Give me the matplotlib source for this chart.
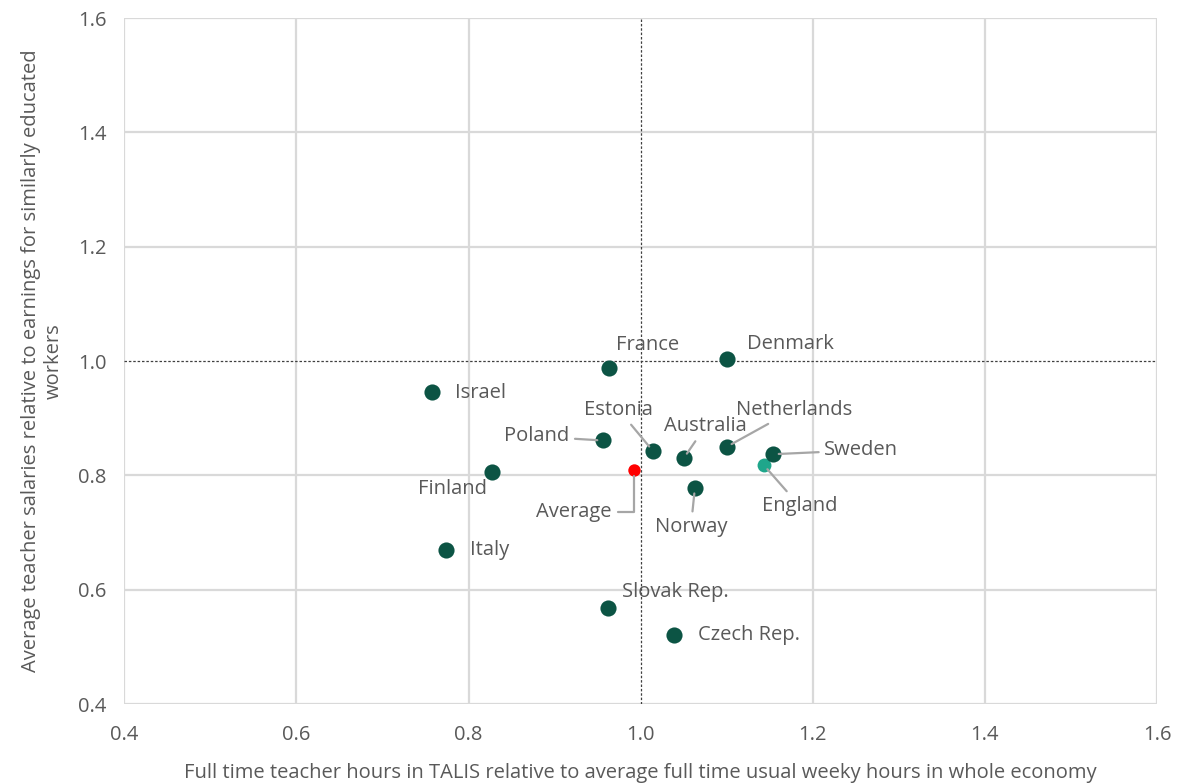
import matplotlib
matplotlib.use("Agg")
import matplotlib.pyplot as plt

countries = ["France", "Denmark", "Israel", "Poland", "Estonia", "Australia",
             "Netherlands", "Sweden", "England", "Finland", "Average", "Norway",
             "Italy", "Slovak Rep.", "Czech Rep."]
hours = [0.963, 1.100, 0.757, 0.956, 1.014, 1.050,
         1.100, 1.154, 1.143, 0.827, 0.992, 1.063,
         0.774, 0.962, 1.039]
salaries = [0.988, 1.004, 0.946, 0.861, 0.843, 0.830,
            0.850, 0.837, 0.818, 0.806, 0.809, 0.778,
            0.669, 0.568, 0.521]

x_ticks = [0.4, 0.6, 0.8, 1.0, 1.2, 1.4, 1.6]
y_ticks = [0.4, 0.6, 0.8, 1.0, 1.2, 1.4, 1.6]

# label offsets in pixels (dx, dy) and whether a leader line is drawn
label_style = {
    "France": ((39, 23), None),
    "Denmark": ((64, 15), None),
    "Israel": ((49, -1), None),
    "Poland": ((-66, 4), "line"),
    "Estonia": ((-34, 41), "line"),
    "Australia": ((22, 32), "line"),
    "Netherlands": ((67, 37), "line"),
    "Sweden": ((88, 4), "line"),
    "England": ((36, -41), "line"),
    "Finland": ((-39, -17), None),
    "Average": ((-60, -42), "elbow"),
    "Norway": ((-4, -39), "line"),
    "Italy": ((43, 0), None),
    "Slovak Rep.": ((67, 16), None),
    "Czech Rep.": ((75, 0), None),
}

DARK = "#0c5444"
TEAL = "#1fa68b"
RED = "#ff0000"
TXT = "#595959"
GRID = "#d9d9d9"

plt.rcParams['font.family'] = ['Open Sans', 'DejaVu Sans']

fig = plt.figure(figsize=(11.8, 7.84), dpi=100)
ax = fig.add_axes([0.1054, 0.102, 0.8751, 0.875])
ax.set_xlim(x_ticks[0], x_ticks[-1])
ax.set_ylim(y_ticks[0], y_ticks[-1])

for t in x_ticks:
    if t != 1.0:
        ax.axvline(t, color=GRID, lw=1.6, zorder=0)
for t in y_ticks:
    if t != 1.0:
        ax.axhline(t, color=GRID, lw=1.6, zorder=0)
ax.axvline(1.0, color="#404040", lw=0.9, ls=(0, (2, 1.5)), zorder=1)
ax.axhline(1.0, color="#404040", lw=0.9, ls=(0, (2, 1.5)), zorder=1)

for s in ax.spines.values():
    s.set_visible(False)

ax.set_xticks(x_ticks)
ax.set_yticks(y_ticks)
ax.set_xticklabels([f"{t:.1f}" for t in x_ticks])
ax.set_yticklabels([f"{t:.1f}" for t in y_ticks])
ax.tick_params(axis='both', length=0, labelsize=14.5, colors=TXT)
ax.tick_params(axis='x', pad=15)
ax.tick_params(axis='y', pad=13)

for name, x, y in zip(countries, hours, salaries):
    if name == "Average":
        ax.scatter([x], [y], s=80, color=RED, zorder=4, linewidths=0)
    elif name == "England":
        ax.scatter([x], [y], s=100, color=TEAL, zorder=3, linewidths=0)
    else:
        ax.scatter([x], [y], s=135, color=DARK, zorder=4, linewidths=0)
    (dx, dy), kind = label_style[name]
    arrow = None
    if kind == "line":
        arrow = dict(arrowstyle='-', color="#a6a6a6", lw=1.6, shrinkA=2, shrinkB=4)
    elif kind == "elbow":
        arrow = dict(arrowstyle='-', color="#a6a6a6", lw=1.6, shrinkA=3, shrinkB=4,
                     connectionstyle="angle,angleA=0,angleB=90,rad=0")
    ax.annotate(name, (x, y), xytext=(dx, dy), textcoords='offset pixels',
                ha='center', va='center', fontsize=14.5, color=TXT,
                arrowprops=arrow, zorder=5)

ax.set_xlabel("Full time teacher hours in TALIS relative to average full time usual weeky hours in whole economy",
              fontsize=14.5, color=TXT, labelpad=13)
ax.set_ylabel("Average teacher salaries relative to earnings for similarly educated\nworkers",
              fontsize=14.5, color=TXT, labelpad=10, linespacing=1.2)

fig.savefig("out.png", dpi=100, facecolor="white")
